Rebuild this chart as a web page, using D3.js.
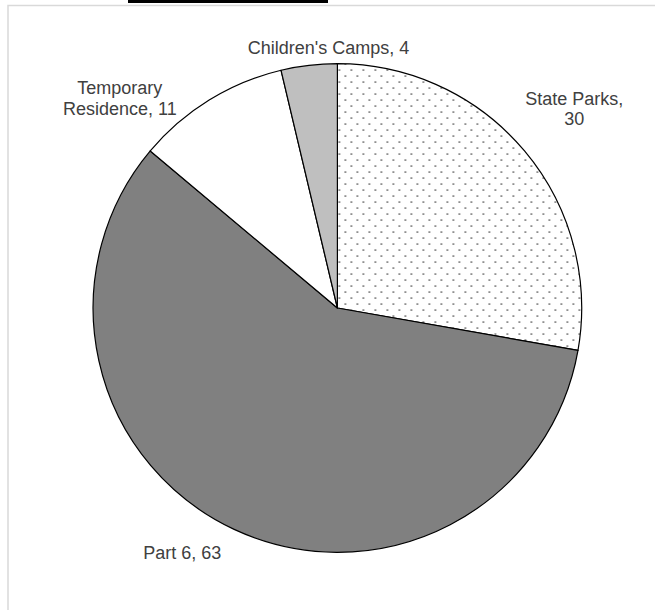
<!DOCTYPE html>
<html>
<head>
<meta charset="utf-8">
<script src="https://cdn.jsdelivr.net/npm/d3@7"></script>
<style>
  html, body { margin: 0; padding: 0; background: #fff; }
  svg { display: block; }
  text { font-family: "Liberation Sans", Arial, sans-serif; font-size: 18px; fill: #404040; }
</style>
</head>
<body>
<script>
// ---- data ----
const categories = ["State Parks", "Part 6", "Temporary Residence", "Children's Camps"];
const values = [30, 63, 11, 4];
const labelLines = [["State Parks,", "30"], ["Part 6, 63"], ["Temporary", "Residence, 11"], ["Children's Camps, 4"]];

// ---- layout / style (separate from data) ----
const W = 655, H = 610;
const cx = 337.4, cy = 308, radius = 244.3;
const fills = ["url(#dots)", "#808080", "#ffffff", "#bfbfbf"];
const labelGap = 14;
const labelNudge = [[39, -37], [-46, 17], [-82, 6], [21, 3]];
const lineHeight = 20.5;

const svg = d3.select("body").append("svg").attr("width", W).attr("height", H);

const defs = svg.append("defs");
const pat = defs.append("pattern").attr("id", "dots").attr("patternUnits", "userSpaceOnUse")
  .attr("width", 12).attr("height", 12);
pat.append("rect").attr("width", 12).attr("height", 12).attr("fill", "#fff");
pat.append("circle").attr("cx", 2).attr("cy", 2).attr("r", 0.85).attr("fill", "#3a3a3a");
pat.append("circle").attr("cx", 8).attr("cy", 8).attr("r", 0.85).attr("fill", "#3a3a3a");

// frame
svg.append("path").attr("d", `M8,${H} L8,5.5 L${W},5.5`).attr("fill", "none")
  .attr("stroke", "#d9d9d9").attr("stroke-width", 1.5);
svg.append("rect").attr("x", 128).attr("y", 0).attr("width", 200).attr("height", 3).attr("fill", "#000");

const pie = d3.pie().sort(null).value(d => d.v);
const arcs = pie(categories.map((c, i) => ({ c, v: values[i], i })));
const arc = d3.arc().innerRadius(0).outerRadius(radius);

const g = svg.append("g").attr("transform", `translate(${cx},${cy})`);
g.selectAll("path.slice").data(arcs).join("path").attr("class", "slice")
  .attr("d", arc)
  .attr("fill", d => fills[d.data.i])
  .attr("stroke", "#000").attr("stroke-width", 1.2).attr("stroke-linejoin", "round");

// labels
arcs.forEach(d => {
  const a = (d.startAngle + d.endAngle) / 2;
  const R = radius + labelGap;
  const x = Math.sin(a) * R + labelNudge[d.data.i][0];
  const y = -Math.cos(a) * R + labelNudge[d.data.i][1];
  const t = g.append("text").attr("text-anchor", "middle");
  labelLines[d.data.i].forEach((ln, k) => {
    t.append("tspan").attr("x", x).attr("y", y + k * lineHeight).text(ln);
  });
});
</script>
</body>
</html>
